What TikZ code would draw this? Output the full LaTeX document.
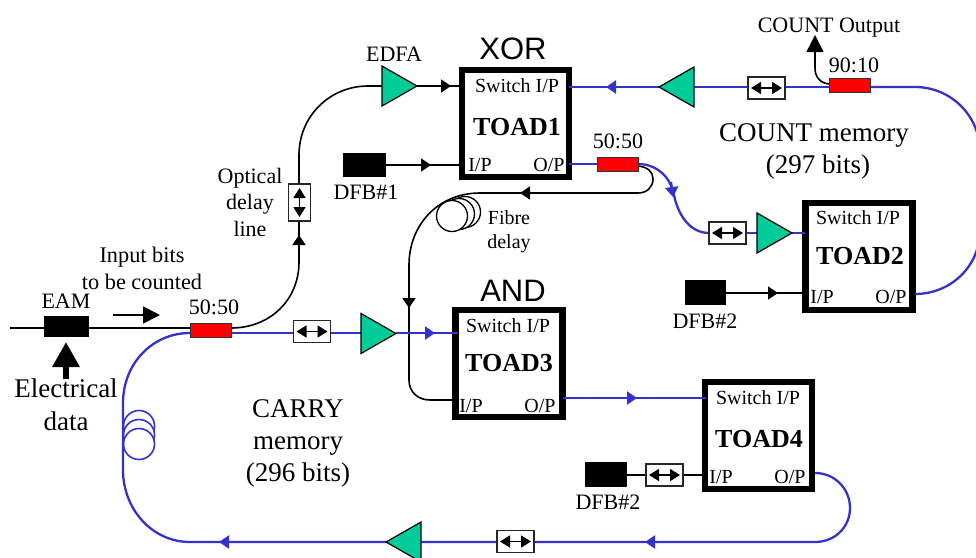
\documentclass[tikz,border=0pt]{standalone}
\usepackage{fontspec}
\setmainfont{Liberation Serif}
\newfontfamily\arialfont{Liberation Sans}
\usetikzlibrary{shapes.geometric,arrows.meta}
\definecolor{fibreblue}{HTML}{3333CC}
\definecolor{ampgreen}{HTML}{00CC99}
\newcommand{\fs}[1]{\fontsize{#1}{#1}\selectfont}
\tikzset{
  x=1pt,y=-1pt,
  lbl/.style={inner sep=0pt,outer sep=0pt,anchor=base,align=center,font=\fs{#1}},
  lbl/.default=22,
  toadbox/.style={draw=black,fill=white,line width=6.5pt,minimum width=107pt,minimum height=107pt,inner sep=0pt,outer sep=0pt},
  redbox/.style={draw=black!80,fill=red,line width=1pt,minimum width=41pt,minimum height=14pt,inner sep=0pt,outer sep=0pt},
  blackbox/.style={draw=none,fill=black,minimum width=43pt,minimum height=24pt,inner sep=0pt,outer sep=0pt},
  delaybox/.style={draw=black!85,fill=white,line width=1.4pt,minimum width=37pt,minimum height=22pt,inner sep=0pt,outer sep=0pt},
  vdelaybox/.style={delaybox,minimum width=22pt,minimum height=37pt},
  dblarrow/.style={black,line width=1.5pt,{Triangle[length=10pt,width=12pt]}-{Triangle[length=10pt,width=12pt]}},
  amp/.style={isosceles triangle,isosceles triangle stretches,draw=black,fill=ampgreen,line width=1.2pt,
    minimum height=35pt,minimum width=40pt,inner sep=0pt,outer sep=0pt},
  blk/.style={black,line width=1.6pt},
  blu/.style={fibreblue,line width=2.3pt},
  tip/.style={-{Triangle[length=10pt,width=13pt]}},
  coilblk/.style={circle,draw=black,fill=white,line width=1.3pt,minimum size=31pt,inner sep=0pt},
  coilblu/.style={circle,draw=fibreblue,fill=white,line width=1.6pt,minimum size=31pt,inner sep=0pt},
}
\begin{document}
\begin{tikzpicture}
\path[use as bounding box] (0,0) rectangle (976,557);
\clip (0,0) rectangle (976,557);

% boxes
\node[toadbox] (toad1) at (515.5,123.5) {};
\node[toadbox] (toad2) at (859,256.5) {};
\node[toadbox] (toad3) at (509,363.5) {};
\node[toadbox] (toad4) at (758.5,435.5) {};

% coils
\node[coilblk] (cb3) at (465,212) {};
\node[coilblk] (cb2) at (459,214) {};
\node[coilblk] (cb1) at (452,216) {};
\node[coilblu] (cc3) at (139,426) {};
\node[coilblu] (cc2) at (139,435) {};
\node[coilblu] (cc1) at (139,444) {};

% coordinates
\coordinate (start) at (10,328);
\coordinate (eamtip) at (66,342);
\coordinate (eamtail) at (66,379);
\coordinate (inA) at (113,315);
\coordinate (inB) at (160,315);
\coordinate (t1si) at (459,86);
\coordinate (t1ss) at (569,87);
\coordinate (t1i) at (459,165);
\coordinate (t1o) at (569,164);
\coordinate (t2si) at (805,233);
\coordinate (t2i) at (805,293);
\coordinate (t2o) at (915,294);
\coordinate (t3si) at (458,333);
\coordinate (t3i) at (455,400);
\coordinate (t3o) at (563,398);
\coordinate (t4si) at (706,398);
\coordinate (t4i) at (705,475);
\coordinate (t4o) at (815,473);
\coordinate (outtip) at (815,35);

% components
\node[blackbox,minimum width=45pt,minimum height=21pt] (eam) at (66.5,326.5) {};
\node[blackbox] (dfb1) at (364.5,165) {};
\node[blackbox,minimum width=41pt,minimum height=25pt] (dfb2) at (705.5,292.5) {};
\node[blackbox,minimum width=42pt,minimum height=25pt] (dfb3) at (606,474.5) {};

% black fibres
\draw[blk] (start) -- (190,328);
\draw[blk] (231,328) .. controls (270,328) and (299,300) .. (299,262) -- (299,221);
\draw[blk,tip] (299,250) -- (299,235);
\draw[blk] (299,184) -- (299,155) .. controls (299,116) and (330,86) .. (368,86) -- (383,86);
\draw[blk] (417,86) -- (t1si);
\draw[blk,tip] (430,86) -- (451,86);
\draw[blk] (dfb1.east) -- (t1i);
\draw[blk,tip] (405,165) -- (431,165);
\draw[blk] (638,166) .. controls (648,167) and (653,172) .. (653,179) .. controls (653,187) and (647,193) .. (638,193) -- (480,193) .. controls (438,193) and (409,225) .. (409,265) -- (409,380) .. controls (409,392) and (418,400) .. (430,400) -- (t3i);
\draw[blk,tip] (535,193) -- (520,193);
\draw[blk,tip] (409,285) -- (409,308);
\draw[blk] (dfb2.east |- t2i) -- (t2i);
\draw[blk,tip] (750,293) -- (778,293);
\draw[blk] (dfb3.east |- t4i) -- (t4i);
\draw[blk,-{Triangle[length=17pt,width=17pt]}] (829,84) .. controls (820,83) and (815,77) .. (815,68) -- (outtip);
\draw[blk,-{Triangle[length=17pt,width=17pt]}] (inA) -- (inB);
\draw[black,line width=6pt,-{Triangle[length=25pt,width=26pt]}] (eamtail) -- (eamtip);

% blue fibres
\draw[blu] (190,333) .. controls (152,333) and (123,364) .. (123,403) -- (123,470) .. controls (123,509) and (152,542) .. (190,542) -- (386,542);
\draw[blu,tip] (240,542) -- (219,542);
\draw[blu] (231,333) -- (361,333);
\draw[blu] (396,333) -- (t3si);
\draw[blu,tip] (405,333) -- (435,333);
\draw[blu] (t3o) -- (t4si);
\draw[blu,tip] (610,398) -- (637,398);
\draw[blu] (t4o) .. controls (835,473) and (850,489) .. (850,508) .. controls (850,527) and (835,542) .. (815,542) -- (420,542);
\draw[blu,tip] (670,542) -- (645,542);
\draw[blu] (t1ss) -- (659,87);
\draw[blu,tip] (630,87) -- (606,87);
\draw[blu] (693,87) -- (829,87);
\draw[blu] (870,87) -- (915,87) .. controls (951,87) and (980,116) .. (980,152) -- (980,230) .. controls (980,266) and (951,294) .. (t2o);
\draw[blu] (t1o) -- (597,164);
\draw[blu] (638,164) .. controls (655,164) and (670,175) .. (674,195) .. controls (678,215) and (690,233) .. (709,233);
\draw[blu,tip] (671,182) -- (673,197);
\draw[blu] (792,233) -- (t2si);
\draw[blu] (746,233) -- (757,233);

% amplifiers
\node[amp,shape border rotate=0,anchor=apex] (a1) at (417,86) {};
\node[amp,shape border rotate=180,anchor=apex] (a2) at (659,87) {};
\node[amp,shape border rotate=0,anchor=apex] (a3) at (792,233) {};
\node[amp,shape border rotate=0,anchor=apex] (a4) at (396,333.5) {};
\node[amp,shape border rotate=180,anchor=apex] (a5) at (386,542) {};

% couplers
\node[redbox] (r1) at (210.5,330.5) {};
\node[redbox] (r2) at (617.5,164) {};
\node[redbox] (r3) at (849.5,85.5) {};

% delay lines
\node[vdelaybox] (d0) at (299.5,202.5) {};
\draw[dblarrow] (d0.north) ++(0,4) coordinate (d0a) (d0.south) ++(0,-4) coordinate (d0b) (d0a) -- (d0b);
\node[delaybox] (d1) at (312,331.5) {};
\node[delaybox] (d2) at (727.5,233) {};
\node[delaybox] (d3) at (664.5,475) {};
\node[delaybox] (d4) at (515.5,541.5) {};
\node[delaybox] (d5) at (766.5,88) {};
\foreach \d in {d1,d2,d3,d4,d5}{
  \draw[dblarrow] ([xshift=3pt]\d.west) -- ([xshift=-3pt]\d.east);
}

% labels
\node[lbl=31,font=\arialfont\fs{31}] (xor) at (513,59) {XOR};
\node[lbl=31,font=\arialfont\fs{31}] (and) at (513,301) {AND};
\node[lbl=20] (s1) at (517,92) {Switch I/P};
\node[lbl=20] (s2) at (858,224) {Switch I/P};
\node[lbl=20] (s3) at (508,332) {Switch I/P};
\node[lbl=20] (s4) at (758,404) {Switch I/P};
\node[lbl=26,font=\bfseries\fs{26}] (n1) at (517,135) {TOAD1};
\node[lbl=26,font=\bfseries\fs{26}] (n2) at (860,264) {TOAD2};
\node[lbl=26,font=\bfseries\fs{26}] (n3) at (509,371) {TOAD3};
\node[lbl=26,font=\bfseries\fs{26}] (n4) at (759,447) {TOAD4};
\node[lbl=20] (i1) at (480,171) {I/P};
\node[lbl=20] (o1) at (549,171) {O/P};
\node[lbl=20] (i2) at (822,303) {I/P};
\node[lbl=20] (o2) at (891,303) {O/P};
\node[lbl=20] (i3) at (471,412) {I/P};
\node[lbl=20] (o3) at (540,412) {O/P};
\node[lbl=20] (i4) at (721,483) {I/P};
\node[lbl=20] (o4) at (790,483) {O/P};
\node[lbl=22] (edfa) at (394,61) {EDFA};
\node[lbl=22] (cpl2) at (618,148) {50:50};
\node[lbl=22] (cpl1) at (214,314) {50:50};
\node[lbl=22] (cpl3) at (854,72) {90:10};
\node[lbl=22] (cout) at (829,32) {COUNT Output};
\node[lbl=27] (cmem) at (814,141) {COUNT memory};
\node[lbl=27] (cbits) at (818,173) {(297 bits)};
\node[lbl=22] (dl1) at (366,199) {DFB\#1};
\node[lbl=22] (dl2) at (705,328) {DFB\#2};
\node[lbl=22] (dl3) at (608,509) {DFB\#2};
\node[lbl=20] (fib) at (509,224) {Fibre};
\node[lbl=20] (del) at (509,248) {delay};
\node[lbl=22] (opt1) at (250,183) {Optical};
\node[lbl=22] (opt2) at (250,209) {delay};
\node[lbl=22] (opt3) at (250,236) {line};
\node[lbl=22.3] (ib1) at (142,262) {Input bits};
\node[lbl=22.3] (ib2) at (142,289) {to be counted};
\node[lbl=22] (eaml) at (66,308) {EAM};
\node[lbl=27] (el1) at (66,397) {Electrical};
\node[lbl=27] (el2) at (66,430) {data};
\node[lbl=27] (cy1) at (298,417) {CARRY};
\node[lbl=27] (cy2) at (298,449) {memory};
\node[lbl=27] (cy3) at (298,481) {(296 bits)};
\end{tikzpicture}
\end{document}
